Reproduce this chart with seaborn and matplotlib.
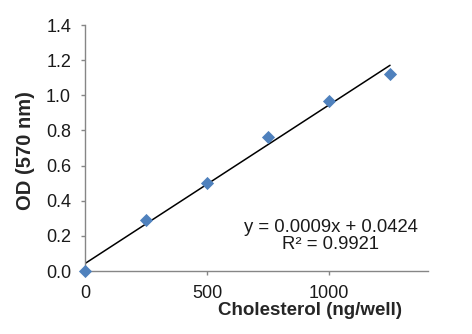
import numpy as np
import pandas as pd
import matplotlib
matplotlib.use("Agg")
import matplotlib.pyplot as plt
import seaborn as sns

cholesterol = [0, 250, 500, 750, 1000, 1250]
od = [0.0, 0.29, 0.50, 0.76, 0.97, 1.12]
x_ticks = [0, 500, 1000]
y_ticks = [0.0, 0.2, 0.4, 0.6, 0.8, 1.0, 1.2, 1.4]
eq_text = "y = 0.0009x + 0.0424\nR² = 0.9921"

df = pd.DataFrame({"Cholesterol": cholesterol, "OD": od})

sns.set_theme(style="white")
plt.rcParams["font.family"] = ["Liberation Sans", "DejaVu Sans"]

fig = plt.figure(figsize=(4.72, 3.34), dpi=100)
ax = fig.add_axes([0.180, 0.1886, 0.727, 0.7364])

sns.regplot(data=df, x="Cholesterol", y="OD", ax=ax, scatter=False, ci=None,
            truncate=True, line_kws={"color": "black", "linewidth": 1.1})
sns.scatterplot(data=df, x="Cholesterol", y="OD", ax=ax, marker="D", s=45,
                color="#4F81BD", edgecolor="#4F81BD", linewidth=0, zorder=3,
                clip_on=False)

ax.set_xlim(0, 1406)
ax.set_ylim(0, 1.4)
ax.set_xticks(x_ticks)
ax.set_yticks(y_ticks)
ax.set_yticklabels([f"{v:.1f}" for v in y_ticks])
ax.tick_params(axis="both", labelsize=13, colors="#868686", labelcolor="#1a1a1a",
               length=3, width=1, direction="out", bottom=True, left=True, pad=7)
ax.tick_params(axis="x", pad=7)

for s in ["top", "right"]:
    ax.spines[s].set_visible(False)
for s in ["left", "bottom"]:
    ax.spines[s].set_color("#868686")
    ax.spines[s].set_linewidth(1)

ax.set_xlabel("Cholesterol (ng/well)", fontsize=13.5, fontweight="bold")
ax.set_ylabel("OD (570 nm)", fontsize=14.5, fontweight="bold")
ax.xaxis.set_label_coords(0.656, -0.128)
ax.yaxis.set_label_coords(-0.172, 0.488)
ax.yaxis.label.set_va("center")

ax.text(0.717, 0.142, eq_text, transform=ax.transAxes, ha="center", va="center",
        fontsize=13.3, linespacing=1.0, color="#1a1a1a")

fig.savefig("out.png", dpi=100)
